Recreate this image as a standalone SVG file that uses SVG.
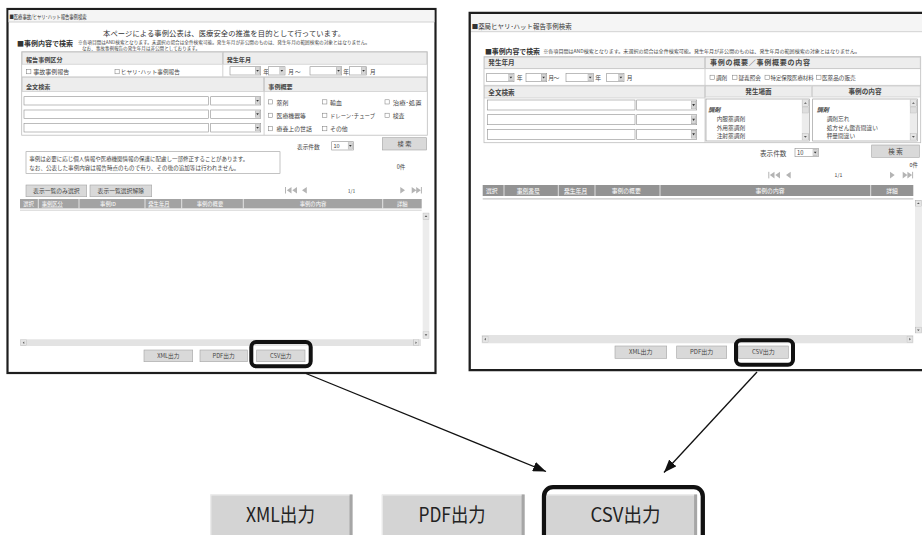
<svg xmlns="http://www.w3.org/2000/svg" xmlns:xlink="http://www.w3.org/1999/xlink" width="922" height="535" viewBox="0 0 922 535">
  <style>
    .t { font-family: "Noto Sans CJK JP", "Noto Sans", sans-serif; fill: #454545; }
    .b { font-weight: bold; }
    .w { fill: #ffffff; }
    .frame { fill: #ffffff; stroke: #1e1e1e; stroke-width: 2.2; }
    .bar { fill: #f5f5f5; }
    .rule { stroke: #c6c6c6; stroke-width: 0.8; fill: none; }
    .tbl { fill: #ffffff; stroke: #bdbdbd; stroke-width: 0.8; }
    .hdr { fill: #ededed; stroke: #c4c4c4; stroke-width: 0.6; }
    .inp { fill: #ffffff; stroke: #8f8f8f; stroke-width: 0.6; }
    .cb { fill: #ffffff; stroke: #777777; stroke-width: 0.5; }
    .btn { fill: #d9d9d9; stroke: #a3a3a3; stroke-width: 0.6; }
    .thead { fill: #a3a3a3; }
    .sep { stroke: #ffffff; stroke-width: 0.7; }
    .track { fill: #ececec; }
    .htrack { fill: #e3e3e3; }
    .nav { fill: #b4b4b4; }
    .hl { fill: none; stroke: #111111; stroke-width: 4; }
    .big { fill: #d4d4d4; }
    .bigedge { fill: #a6a6a6; }
    .bigtxt { font-family: "Noto Sans CJK JP", "DejaVu Sans", sans-serif; fill: #222222; font-size: 19.5px; }
    .conn { stroke: #111111; stroke-width: 1.3; fill: none; }
  </style>
  <defs>
    <symbol id="dd" viewBox="0 0 5 7" preserveAspectRatio="none">
      <rect x="0.2" y="0.2" width="4.6" height="6.6" fill="#d6d6d6" stroke="#9a9a9a" stroke-width="0.4"/>
      <path d="M1.2,2.7 L3.8,2.7 L2.5,4.5 Z" fill="#333333"/>
    </symbol>
    <symbol id="sbup" viewBox="0 0 6 6" preserveAspectRatio="none">
      <rect x="0.2" y="0.2" width="5.6" height="5.6" fill="#e4e4e4" stroke="#a8a8a8" stroke-width="0.4"/>
      <path d="M1.8,3.6 L4.2,3.6 L3,2.2 Z" fill="#555555"/>
    </symbol>
    <symbol id="sbdown" viewBox="0 0 6 6" preserveAspectRatio="none">
      <rect x="0.2" y="0.2" width="5.6" height="5.6" fill="#e4e4e4" stroke="#a8a8a8" stroke-width="0.4"/>
      <path d="M1.8,2.4 L4.2,2.4 L3,3.8 Z" fill="#555555"/>
    </symbol>
    <symbol id="sbleft" viewBox="0 0 6 6" preserveAspectRatio="none">
      <rect x="0.2" y="0.2" width="5.6" height="5.6" fill="#e4e4e4" stroke="#a8a8a8" stroke-width="0.4"/>
      <path d="M3.6,1.8 L3.6,4.2 L2.2,3 Z" fill="#555555"/>
    </symbol>
    <symbol id="sbright" viewBox="0 0 6 6" preserveAspectRatio="none">
      <rect x="0.2" y="0.2" width="5.6" height="5.6" fill="#e4e4e4" stroke="#a8a8a8" stroke-width="0.4"/>
      <path d="M2.4,1.8 L2.4,4.2 L3.8,3 Z" fill="#555555"/>
    </symbol>
    <marker id="arrow" markerUnits="userSpaceOnUse" markerWidth="13" markerHeight="10" refX="13" refY="5" orient="auto">
      <path d="M0,0 L13,5 L0,10 Z" fill="#111111"/>
    </marker>
  </defs>

  <rect width="922" height="535" fill="#ffffff"/>

  <!-- Left window: incident / near-miss case search -->
  <g id="win-left">
    <rect class="frame" x="7.5" y="9" width="428" height="364"/>
    <rect class="bar" x="8.6" y="10.1" width="425.8" height="11.9"/>
    <line class="rule" x1="8.6" y1="22" x2="434.4" y2="22"/>
    <text class="t" x="9.5" y="18.6" font-size="5.6" textLength="77" lengthAdjust="spacingAndGlyphs" style="fill:#333">■医療事故/ヒヤリ･ハット報告事例検索</text>

    <text class="t" x="103" y="36" font-size="7.3" textLength="242" style="fill:#333">本ページによる事例公表は、医療安全の推進を目的として行っています。</text>
    <text class="t b" x="17" y="45.5" font-size="7" textLength="56" style="fill:#333">■事例内容で検索</text>
    <text class="t" x="78" y="44.3" font-size="4.6" textLength="292" lengthAdjust="spacingAndGlyphs">※各項目間はAND検索となります。未選択の場合は全件検索可能。発生年月が非公開のものは、発生年月の範囲検索の対象とはなりません。</text>
    <text class="t" x="82" y="50.3" font-size="4.6" textLength="118" lengthAdjust="spacingAndGlyphs">なお、事故事例報告の発生年月は非公開としております。</text>

    <!-- search form -->
    <rect class="tbl" x="21.7" y="51.7" width="405.6" height="83.5"/>
    <rect class="hdr" x="22.2" y="52.2" width="200.3" height="12"/>
    <rect class="hdr" x="223.2" y="52.2" width="203.6" height="12"/>
    <line class="rule" x1="222.8" y1="52" x2="222.8" y2="76.8"/>
    <line class="rule" x1="22" y1="76.8" x2="427" y2="76.8"/>
    <rect class="hdr" x="22.2" y="77.6" width="241.5" height="14"/>
    <rect class="hdr" x="264.5" y="77.6" width="162.3" height="14"/>
    <line class="rule" x1="264.1" y1="77.5" x2="264.1" y2="135"/>
    <text class="t b" x="26" y="61.6" font-size="6.1">報告事例区分</text>
    <text class="t b" x="226.7" y="61.6" font-size="6.1">発生年月</text>
    <text class="t b" x="26" y="89" font-size="6.1">全文検索</text>
    <text class="t b" x="268.3" y="89" font-size="6.1">事例概要</text>

    <rect class="cb" x="26.7" y="69.6" width="4.2" height="4.2"/>
    <text class="t" x="33.3" y="74.3" font-size="6">事故事例報告</text>
    <rect class="cb" x="115" y="69.6" width="4.2" height="4.2"/>
    <text class="t" x="120.8" y="74.3" font-size="5.6" textLength="59" lengthAdjust="spacingAndGlyphs">ヒヤリ･ハット事例報告</text>

    <rect class="inp" x="230" y="66.7" width="30.7" height="8.3"/>
    <use href="#dd" x="255" y="67.3" width="5.1" height="7.1"/>
    <text class="t" x="263.3" y="73.6" font-size="5.6">年</text>
    <rect class="inp" x="268.3" y="66.7" width="16.7" height="8.3"/>
    <use href="#dd" x="279.3" y="67.3" width="5.1" height="7.1"/>
    <text class="t" x="288.3" y="73.6" font-size="5.6">月</text>
    <text class="t" x="295" y="73.6" font-size="5.6">～</text>
    <rect class="inp" x="310" y="66.7" width="31.7" height="8.3"/>
    <use href="#dd" x="336" y="67.3" width="5.1" height="7.1"/>
    <text class="t" x="343.3" y="73.6" font-size="5.6">年</text>
    <rect class="inp" x="349.3" y="66.7" width="17.4" height="8.3"/>
    <use href="#dd" x="361" y="67.3" width="5.1" height="7.1"/>
    <text class="t" x="370" y="73.6" font-size="5.6">月</text>

    <rect class="inp" x="24" y="96.7" width="184.3" height="8.3"/>
    <rect class="inp" x="210.7" y="96.7" width="50" height="8.3"/>
    <use href="#dd" x="255" y="97.3" width="5.1" height="7.1"/>
    <rect class="inp" x="24" y="110" width="184.3" height="8.3"/>
    <rect class="inp" x="210.7" y="110" width="50" height="8.3"/>
    <use href="#dd" x="255" y="110.6" width="5.1" height="7.1"/>
    <rect class="inp" x="24" y="123.5" width="184.3" height="8.5"/>
    <rect class="inp" x="210.7" y="123.5" width="50" height="8.5"/>
    <use href="#dd" x="255" y="124.2" width="5.1" height="7.1"/>

    <rect class="cb" x="268.3" y="99.8" width="4.2" height="4.2"/>
    <text class="t" x="276.5" y="104.5" font-size="5.9">薬剤</text>
    <rect class="cb" x="322.7" y="99.8" width="4.2" height="4.2"/>
    <text class="t" x="330" y="104.5" font-size="5.9">輸血</text>
    <rect class="cb" x="385" y="99.8" width="4.2" height="4.2"/>
    <text class="t" x="392.7" y="104.5" font-size="5.9" textLength="29" lengthAdjust="spacingAndGlyphs">治療･処置</text>
    <rect class="cb" x="268.3" y="113.2" width="4.2" height="4.2"/>
    <text class="t" x="276.5" y="117.9" font-size="5.9">医療機器等</text>
    <rect class="cb" x="322.7" y="113.2" width="4.2" height="4.2"/>
    <text class="t" x="330" y="117.9" font-size="5.9" textLength="45" lengthAdjust="spacingAndGlyphs">ドレーン･チューブ</text>
    <rect class="cb" x="385" y="113.2" width="4.2" height="4.2"/>
    <text class="t" x="392.7" y="117.9" font-size="5.9">検査</text>
    <rect class="cb" x="268.3" y="126.6" width="4.2" height="4.2"/>
    <text class="t" x="276.5" y="131.3" font-size="5.9">療養上の世話</text>
    <rect class="cb" x="322.7" y="126.6" width="4.2" height="4.2"/>
    <text class="t" x="330" y="131.3" font-size="5.9">その他</text>

    <!-- count, search button, notice -->
    <text class="t" x="297" y="148.6" font-size="5.7">表示件数</text>
    <rect class="inp" x="331.7" y="141.7" width="21.6" height="8.3"/>
    <text class="t" x="333.4" y="148.3" font-size="5.6">10</text>
    <use href="#dd" x="347.8" y="142.3" width="5.1" height="7.1"/>
    <rect class="btn" x="382.3" y="137.7" width="44.4" height="12.3"/>
    <text class="t" x="404.5" y="146.2" font-size="6.2" text-anchor="middle">検 索</text>

    <rect class="inp" x="26" y="151.7" width="254" height="21.6" style="stroke:#9c9c9c"/>
    <text class="t" x="29.3" y="160.6" font-size="5.4" textLength="219" lengthAdjust="spacingAndGlyphs">事例は必要に応じ個人情報や医療機関情報の保護に配慮し一部修正することがあります。</text>
    <text class="t" x="29.3" y="169.6" font-size="5.4" textLength="210" lengthAdjust="spacingAndGlyphs">なお、公表した事例内容は報告時点のもので有り、その後の追加等は行われません。</text>
    <text class="t" x="396.7" y="169.2" font-size="5.5">0件</text>

    <rect class="btn" x="26" y="185" width="60.7" height="11.7"/>
    <text class="t" x="56.3" y="193" font-size="5.8" text-anchor="middle">表示一覧のみ選択</text>
    <rect class="btn" x="90" y="185" width="61.7" height="11.7"/>
    <text class="t" x="120.8" y="193" font-size="5.8" text-anchor="middle">表示一覧選択解除</text>

    <!-- pager -->
    <rect class="nav" x="285" y="187" width="1" height="6.5"/>
    <path class="nav" d="M291.5,187 L286.8,190.2 L291.5,193.5 Z M297,187 L292.3,190.2 L297,193.5 Z M306.8,187 L302,190.2 L306.8,193.5 Z"/>
    <text class="t" x="351.5" y="192.6" font-size="5" text-anchor="middle">1/1</text>
    <path class="nav" d="M400.3,187 L405,190.2 L400.3,193.5 Z M411.7,187 L416.4,190.2 L411.7,193.5 Z M416.2,187 L420.9,190.2 L416.2,193.5 Z"/>
    <rect class="nav" x="420.9" y="187" width="1" height="6.5"/>

    <!-- result table -->
    <rect class="thead" x="20" y="199" width="401.7" height="9.4"/>
    <line class="sep" x1="38.3" y1="199" x2="38.3" y2="208.4"/>
    <line class="sep" x1="79" y1="199" x2="79" y2="208.4"/>
    <line class="sep" x1="145" y1="199" x2="145" y2="208.4"/>
    <line class="sep" x1="181.7" y1="199" x2="181.7" y2="208.4"/>
    <line class="sep" x1="243.3" y1="199" x2="243.3" y2="208.4"/>
    <line class="sep" x1="382.7" y1="199" x2="382.7" y2="208.4"/>
    <text class="t w" x="23.3" y="205.8" font-size="5.3">選択</text>
    <text class="t w" x="41.7" y="205.8" font-size="5.3" text-decoration="underline">事例区分</text>
    <text class="t w" x="108" y="205.8" font-size="5.3" text-anchor="middle">事例ID</text>
    <text class="t w" x="148.3" y="205.8" font-size="5.3" text-decoration="underline">発生年月</text>
    <text class="t w" x="196.7" y="205.8" font-size="5.3">事例の概要</text>
    <text class="t w" x="313" y="205.8" font-size="5.3" text-anchor="middle">事例の内容</text>
    <text class="t w" x="397" y="205.8" font-size="5.3">詳細</text>
    <line class="rule" x1="20" y1="210.2" x2="421.7" y2="210.2"/>

    <rect class="track" x="422.7" y="212.7" width="6.6" height="126"/>
    <use href="#sbup" x="422.7" y="212.7" width="6.6" height="7"/>
    <use href="#sbdown" x="422.7" y="331.5" width="6.6" height="7"/>
    <rect class="htrack" x="20" y="339.3" width="401" height="6.7"/>
    <use href="#sbleft" x="20.5" y="339.5" width="6.2" height="6.3"/>
    <use href="#sbright" x="413" y="339.5" width="6.2" height="6.3"/>

    <rect class="btn" x="144" y="350" width="48.7" height="11.7"/>
    <text class="t" x="168.3" y="358" font-size="5.7" text-anchor="middle">XML出力</text>
    <rect class="btn" x="200" y="350" width="47.3" height="11.7"/>
    <text class="t" x="223.6" y="358" font-size="5.7" text-anchor="middle">PDF出力</text>
    <rect class="btn" x="256.7" y="350" width="48.3" height="11.7"/>
    <text class="t" x="280.8" y="358" font-size="5.7" text-anchor="middle">CSV出力</text>
  </g>

  <!-- CSV button highlight in the left window -->
  <g id="hl-left">
    <rect class="hl" x="251.3" y="342" width="59.4" height="24.3" rx="5"/>
  </g>

  <!-- Right window: pharmacy near-miss case search -->
  <g id="win-right">
    <rect x="469.7" y="12.8" width="460" height="357.4" fill="#ffffff"/>
    <rect class="bar" x="470.8" y="14" width="452" height="17.6"/>
    <line class="rule" x1="470.8" y1="31.7" x2="922" y2="31.7"/>
    <path d="M930,12.8 L469.7,12.8 L469.7,370.2 L930,370.2" fill="none" stroke="#1e1e1e" stroke-width="2.3"/>
    <text class="t" x="471.7" y="28.6" font-size="6.3" textLength="100" lengthAdjust="spacingAndGlyphs" style="fill:#333">■薬局ヒヤリ･ハット報告事例検索</text>

    <text class="t b" x="485" y="53.8" font-size="6.9" textLength="55" style="fill:#333">■事例内容で検索</text>
    <text class="t" x="543.3" y="53.4" font-size="5" textLength="316.7" lengthAdjust="spacingAndGlyphs">※各項目間はAND検索となります。未選択の場合は全件検索可能。発生年月が非公開のものは、発生年月の範囲検索の対象とはなりません。</text>

    <!-- search form -->
    <rect class="tbl" x="484" y="56.7" width="436.7" height="86"/>
    <rect class="hdr" x="484.5" y="57.2" width="220" height="11.1"/>
    <rect class="hdr" x="705.5" y="57.2" width="214.7" height="11.1"/>
    <line class="rule" x1="705" y1="56.7" x2="705" y2="142.7"/>
    <line class="rule" x1="484" y1="68.6" x2="920.7" y2="68.6"/>
    <line class="rule" x1="484" y1="85.4" x2="920.7" y2="85.4"/>
    <rect class="hdr" x="484.5" y="86" width="220" height="12"/>
    <rect class="hdr" x="705.5" y="86" width="106" height="11"/>
    <rect class="hdr" x="812.3" y="86" width="107.9" height="11"/>
    <text class="t b" x="488.3" y="65.4" font-size="6.6">発生年月</text>
    <text class="t b" x="710" y="65" font-size="7" textLength="100">事例の概要／事例概要の内容</text>
    <text class="t b" x="488.3" y="95" font-size="6.6">全文検索</text>
    <text class="t b" x="758.5" y="94" font-size="6.6" text-anchor="middle">発生場面</text>
    <text class="t b" x="865" y="94" font-size="6.6" text-anchor="middle">事例の内容</text>

    <rect class="inp" x="486.7" y="73.3" width="27.3" height="8.4"/>
    <use href="#dd" x="508.3" y="73.9" width="5.2" height="7.2"/>
    <text class="t" x="516.7" y="80.2" font-size="5.8">年</text>
    <rect class="inp" x="526" y="73.3" width="20.7" height="8.4"/>
    <use href="#dd" x="541" y="73.9" width="5.2" height="7.2"/>
    <text class="t" x="548.3" y="80.2" font-size="5.8">月</text>
    <text class="t" x="553.6" y="80.2" font-size="5.8">～</text>
    <rect class="inp" x="566" y="73.3" width="27.3" height="8.4"/>
    <use href="#dd" x="587.6" y="73.9" width="5.2" height="7.2"/>
    <text class="t" x="595.3" y="80.2" font-size="5.8">年</text>
    <rect class="inp" x="606.7" y="73.3" width="17.3" height="8.4"/>
    <use href="#dd" x="618.3" y="73.9" width="5.2" height="7.2"/>
    <text class="t" x="626.7" y="80.2" font-size="5.8">月</text>

    <rect class="cb" x="710" y="75.2" width="4.3" height="4.3"/>
    <text class="t" x="716" y="80" font-size="5.6">調剤</text>
    <rect class="cb" x="732.7" y="75.2" width="4.3" height="4.3"/>
    <text class="t" x="738.5" y="80" font-size="5.6">疑義照会</text>
    <rect class="cb" x="765" y="75.2" width="4.3" height="4.3"/>
    <text class="t" x="770.5" y="80" font-size="5.4">特定保険医療材料</text>
    <rect class="cb" x="816.7" y="75.2" width="4.3" height="4.3"/>
    <text class="t" x="822" y="80" font-size="5.6">医薬品の販売</text>

    <rect class="inp" x="487.3" y="100" width="147.7" height="10"/>
    <rect class="inp" x="636.7" y="100" width="60" height="10"/>
    <use href="#dd" x="691" y="100.7" width="5.2" height="8.6"/>
    <rect class="inp" x="487.3" y="114.7" width="147.7" height="10"/>
    <rect class="inp" x="636.7" y="114.7" width="60" height="10"/>
    <use href="#dd" x="691" y="115.4" width="5.2" height="8.6"/>
    <rect class="inp" x="487.3" y="129.3" width="147.7" height="10"/>
    <rect class="inp" x="636.7" y="129.3" width="60" height="10"/>
    <use href="#dd" x="691" y="130" width="5.2" height="8.6"/>

    <!-- scene list -->
    <rect class="inp" x="706" y="99" width="103.5" height="42"/>
    <rect class="track" x="801.8" y="99.5" width="7.2" height="41"/>
    <use href="#sbup" x="801.8" y="99.5" width="7.2" height="7.2"/>
    <rect x="802.2" y="107" width="6.4" height="6" fill="#dedede" stroke="#b0b0b0" stroke-width="0.3"/>
    <use href="#sbdown" x="801.8" y="133.2" width="7.2" height="7.2"/>
    <text class="t b" x="708.3" y="112" font-size="6" font-style="italic">調剤</text>
    <text class="t" x="716.7" y="121" font-size="5.7">内服薬調剤</text>
    <text class="t" x="716.7" y="129.8" font-size="5.7">外用薬調剤</text>
    <text class="t" x="716.7" y="138.2" font-size="5.7">注射薬調剤</text>

    <!-- content list -->
    <rect class="inp" x="812.7" y="99" width="104.6" height="42"/>
    <rect class="track" x="909.8" y="99.5" width="7.2" height="41"/>
    <use href="#sbup" x="909.8" y="99.5" width="7.2" height="7.2"/>
    <rect x="910.2" y="107" width="6.4" height="6" fill="#dedede" stroke="#b0b0b0" stroke-width="0.3"/>
    <use href="#sbdown" x="909.8" y="133.2" width="7.2" height="7.2"/>
    <text class="t b" x="816.7" y="112" font-size="6" font-style="italic">調剤</text>
    <text class="t" x="826.7" y="121" font-size="5.7">調剤忘れ</text>
    <text class="t" x="826.7" y="129.8" font-size="5.7">処方せん鑑査間違い</text>
    <text class="t" x="826.7" y="138.2" font-size="5.7">秤量間違い</text>

    <!-- count, search button -->
    <text class="t" x="760" y="155.6" font-size="6.6">表示件数</text>
    <rect class="inp" x="795" y="148.3" width="23.3" height="8.4"/>
    <text class="t" x="797" y="155.2" font-size="5.8">10</text>
    <use href="#dd" x="812.6" y="148.9" width="5.2" height="7.2"/>
    <rect class="btn" x="871.7" y="145" width="47.6" height="12.3"/>
    <text class="t" x="895.5" y="153.6" font-size="6.5" text-anchor="middle">検 索</text>
    <text class="t" x="909.6" y="167.3" font-size="5.4">0件</text>

    <!-- pager -->
    <rect class="nav" x="768.3" y="171.8" width="1" height="6.6"/>
    <path class="nav" d="M774.5,171.8 L769.8,175.1 L774.5,178.4 Z M780,171.8 L775.3,175.1 L780,178.4 Z M790.7,171.8 L786,175.1 L790.7,178.4 Z"/>
    <text class="t" x="838.5" y="177.2" font-size="5.2" text-anchor="middle">1/1</text>
    <path class="nav" d="M890,171.8 L894.7,175.1 L890,178.4 Z M902.7,171.8 L907.4,175.1 L902.7,178.4 Z M907.4,171.8 L912.1,175.1 L907.4,178.4 Z"/>
    <rect class="nav" x="912.1" y="171.8" width="1" height="6.6"/>

    <!-- result table -->
    <rect class="thead" x="482.7" y="185" width="430.6" height="11" style="fill:#939393"/>
    <line class="sep" x1="504" y1="185" x2="504" y2="196"/>
    <line class="sep" x1="558.3" y1="185" x2="558.3" y2="196"/>
    <line class="sep" x1="595" y1="185" x2="595" y2="196"/>
    <line class="sep" x1="660" y1="185" x2="660" y2="196"/>
    <line class="sep" x1="870.7" y1="185" x2="870.7" y2="196"/>
    <text class="t w" x="486" y="192.8" font-size="5.8">選択</text>
    <text class="t w" x="516.7" y="192.8" font-size="5.8" text-decoration="underline">事例番号</text>
    <text class="t w" x="564" y="192.8" font-size="5.8" text-decoration="underline">発生年月</text>
    <text class="t w" x="611.7" y="192.8" font-size="5.8">事例の概要</text>
    <text class="t w" x="770" y="192.8" font-size="5.8" text-anchor="middle">事例の内容</text>
    <text class="t w" x="892" y="192.8" font-size="5.8" text-anchor="middle">詳細</text>
    <line class="rule" x1="482.7" y1="198.8" x2="913.3" y2="198.8" style="stroke-width:1.2"/>

    <rect class="track" x="915" y="200" width="7" height="133.3"/>
    <use href="#sbup" x="915" y="200" width="6.7" height="6.5"/>
    <use href="#sbdown" x="915" y="326.8" width="6.7" height="6.5"/>
    <rect class="htrack" x="481.7" y="335" width="431.6" height="8.3"/>
    <use href="#sbleft" x="481.9" y="335.8" width="6.5" height="6.7"/>
    <use href="#sbright" x="906.7" y="335.8" width="6.5" height="6.7"/>

    <rect class="btn" x="615" y="346" width="51.7" height="12.3"/>
    <text class="t" x="640.8" y="354.4" font-size="6" text-anchor="middle">XML出力</text>
    <rect class="btn" x="676.7" y="346" width="50" height="12.3"/>
    <text class="t" x="701.7" y="354.4" font-size="6" text-anchor="middle">PDF出力</text>
    <rect class="btn" x="738.3" y="346" width="50" height="12.3"/>
    <text class="t" x="763.3" y="354.4" font-size="6" text-anchor="middle">CSV出力</text>
  </g>

  <!-- CSV button highlight in the right window -->
  <g id="hl-right">
    <rect class="hl" x="736" y="340.3" width="57" height="24.4" rx="5"/>
  </g>

  <!-- Enlarged output buttons -->
  <g id="btn-xml">
    <rect class="big" x="210.4" y="494.5" width="142.1" height="45"/>
    <rect class="bigedge" x="349.5" y="494.5" width="3" height="45"/>
    <line x1="210.4" y1="495" x2="349.5" y2="495" stroke="#eeeeee" stroke-width="1"/>
    <line x1="210.9" y1="494.5" x2="210.9" y2="535" stroke="#eeeeee" stroke-width="1"/>
    <text class="bigtxt" x="280.5" y="521.5" text-anchor="middle" textLength="69" lengthAdjust="spacingAndGlyphs">XML出力</text>
  </g>
  <g id="btn-pdf">
    <rect class="big" x="381.8" y="494.5" width="142.8" height="45"/>
    <rect class="bigedge" x="521.6" y="494.5" width="3" height="45"/>
    <line x1="381.8" y1="495" x2="521.6" y2="495" stroke="#eeeeee" stroke-width="1"/>
    <line x1="382.3" y1="494.5" x2="382.3" y2="535" stroke="#eeeeee" stroke-width="1"/>
    <text class="bigtxt" x="452" y="521.5" text-anchor="middle" textLength="67" lengthAdjust="spacingAndGlyphs">PDF出力</text>
  </g>
  <g id="btn-csv">
    <rect class="big" x="546.5" y="494.5" width="150.6" height="45"/>
    <rect class="bigedge" x="694.1" y="494.5" width="3" height="45"/>
    <line x1="546.5" y1="495" x2="694.1" y2="495" stroke="#eeeeee" stroke-width="1"/>
    <text class="bigtxt" x="625.5" y="521.5" text-anchor="middle" textLength="70" lengthAdjust="spacingAndGlyphs">CSV出力</text>
    <rect x="544" y="487.2" width="158.8" height="60" rx="9" fill="none" stroke="#111111" stroke-width="4.3"/>
  </g>

  <!-- Connectors -->
  <g id="connectors">
    <line class="conn" x1="306" y1="373.5" x2="546" y2="471.5" marker-end="url(#arrow)"/>
    <line class="conn" x1="757" y1="372" x2="664" y2="472.5" marker-end="url(#arrow)"/>
  </g>
</svg>
